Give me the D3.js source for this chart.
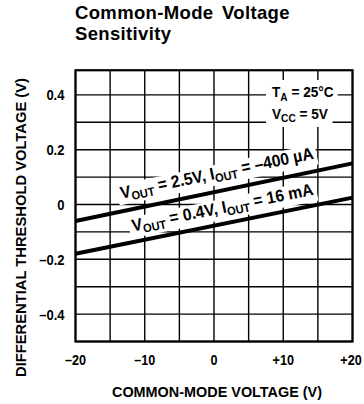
<!DOCTYPE html>
<html><head><meta charset="utf-8">
<script src="https://cdn.jsdelivr.net/npm/d3@7"></script>
<style>
body{margin:0;background:#fff;}
svg{display:block;}
text{fill:#000;}
</style></head>
<body><svg id="c" width="364" height="404"></svg>
<script>
// ---- data ----
const commonModeV = [-20, 20];
const vout25 = [-0.06, 0.15];   // VOUT = 2.5V, IOUT = -400 uA
const vout04 = [-0.18, 0.025];  // VOUT = 0.4V, IOUT = 16 mA
const xTicks = [-20, -10, 0, 10, 20];
const xTickLabels = ["\u201320", "\u201310", "0", "+10", "+20"];
const yTicks = [0.4, 0.2, 0, -0.2, -0.4];
const yTickLabels = ["0.4", "0.2", "0", "\u20130.2", "\u20130.4"];
const titleLines = ["Common-Mode Voltage", "Sensitivity"];
const xTitle = "COMMON-MODE VOLTAGE (V)";
const yTitle = "DIFFERENTIAL THRESHOLD VOLTAGE (V)";

const svg = d3.select("#c");
const x = d3.scaleLinear().domain([-20, 20]).range([75.5, 352.5]);
const y = d3.scaleLinear().domain([-0.5, 0.5]).range([341.5, 67.5]);
const yTop = 0.49;
const font = "'Liberation Sans',Arial,Helvetica,sans-serif";

function condense(sel, k) {
  sel.each(function() {
    const L = this.getComputedTextLength();
    d3.select(this).attr("textLength", L * k).attr("lengthAdjust", "spacingAndGlyphs");
  });
}

// title
svg.append("g").selectAll("text").data(titleLines).join("text")
  .attr("x", 75).attr("y", (d, i) => 18.5 + i * 21.5)
  .attr("font-family", font).attr("font-weight", "bold").attr("font-size", 18.5)
  .attr("word-spacing", 3).attr("letter-spacing", 0.35)
  .text(d => d);

// grid
const g = svg.append("g");
g.selectAll("line.vx").data(x.ticks(8)).join("line")
  .attr("x1", d => x(d)).attr("x2", d => x(d))
  .attr("y1", y(-0.5)).attr("y2", y(yTop))
  .attr("stroke", "#000").attr("stroke-width", 1.4);
g.selectAll("line.hy").data(y.ticks(10).filter(v => v < yTop)).join("line")
  .attr("x1", x(-20)).attr("x2", x(20))
  .attr("y1", d => y(d)).attr("y2", d => y(d))
  .attr("stroke", "#000").attr("stroke-width", 1.4);

// condition box (white background over grid)
const cond_g = svg.append("g");
const condLines = [["T", "A", " = 25\u00b0C"], ["V", "CC", " = 5V"]];
const condTexts = cond_g.selectAll("text").data(condLines).join("text")
  .attr("x", 272).attr("y", (d, i) => 97 + i * 21.5)
  .attr("font-family", font).attr("font-weight", "bold").attr("font-size", 15.5);
condTexts.each(function(d) {
  const t = d3.select(this);
  t.append("tspan").text(d[0]);
  t.append("tspan").attr("dy", 3.5).attr("font-size", 11.5).text(d[1]);
  t.append("tspan").attr("dy", -3.5).text(d[2]);
});
condense(condTexts, 0.88);
condTexts.each(function() {
  const b = this.getBBox();
  cond_g.insert("rect", "text").attr("x", b.x - 6).attr("y", b.y - 3)
    .attr("width", b.width + 10).attr("height", b.height + 6).attr("fill", "#fff");
});

// frame
svg.append("rect").attr("x", x(-20)).attr("y", y(yTop))
  .attr("width", x(20) - x(-20)).attr("height", y(-0.5) - y(yTop))
  .attr("fill", "none").attr("stroke", "#000").attr("stroke-width", 2.2);

// data lines
const series = [vout25, vout04];
const line = d3.line().x(d => x(d[0])).y(d => y(d[1]));
svg.append("g").selectAll("path").data(series).join("path")
  .attr("d", s => line(commonModeV.map((v, i) => [v, s[i]])))
  .attr("fill", "none").attr("stroke", "#000").attr("stroke-width", 4);

// curve labels
const labels = [
  {s: vout25, x0: -13.0, off: -12.5, len: 197, parts: ["V", "OUT", " = 2.5V, I", "OUT", " = \u2013400 \u00b5A"]},
  {s: vout04, x0: -11.4, off: -10.5, len: 185, parts: ["V", "OUT", " = 0.4V, I", "OUT", " = 16 mA"]}
];
labels.forEach(L => {
  const ang = Math.atan2(y(L.s[1]) - y(L.s[0]), x(20) - x(-20)) * 180 / Math.PI;
  const yy = y(L.s[0] + (L.s[1] - L.s[0]) * (L.x0 + 20) / 40);
  const lg = svg.append("g").attr("transform", `translate(${x(L.x0)},${yy}) rotate(${ang})`);
  const t = lg.append("text").attr("x", 0).attr("y", L.off)
    .attr("font-family", font).attr("font-weight", "bold").attr("font-size", 17);
  L.parts.forEach((p, i) => {
    const sub = i % 2 === 1;
    t.append("tspan").attr("dy", i === 0 ? 0 : (sub ? 3.5 : -3.5))
      .attr("font-size", sub ? 12 : 17).text(p);
  });
  t.attr("textLength", L.len).attr("lengthAdjust", "spacingAndGlyphs");
  const b = t.node().getBBox();
  lg.insert("rect", "text").attr("x", b.x - 3).attr("y", b.y + 1)
    .attr("width", b.width + 6).attr("height", b.height - 1).attr("fill", "#fff");
});

// tick labels
const xt = svg.append("g").selectAll("text").data(xTicks).join("text")
  .attr("x", d => Math.min(x(d), 351)).attr("y", 365).attr("text-anchor", "middle")
  .attr("font-family", font).attr("font-weight", "bold").attr("font-size", 14)
  .text((d, i) => xTickLabels[i]);
condense(xt, 0.9);
const yt = svg.append("g").selectAll("text").data(yTicks).join("text")
  .attr("x", 64.5).attr("y", d => y(d) + 5.5).attr("text-anchor", "end")
  .attr("font-family", font).attr("font-weight", "bold").attr("font-size", 15.5)
  .text((d, i) => yTickLabels[i]);
condense(yt, 0.84);

// axis titles
svg.append("text").attr("x", 217).attr("y", 396.5).attr("text-anchor", "middle")
  .attr("font-family", font).attr("font-weight", "bold").attr("font-size", 14.5)
  .attr("textLength", 210).attr("lengthAdjust", "spacingAndGlyphs").text(xTitle);
svg.append("text").attr("transform", "translate(25.5,227.5) rotate(-90)")
  .attr("text-anchor", "middle")
  .attr("font-family", font).attr("font-weight", "bold").attr("font-size", 14)
  .attr("textLength", 299).attr("lengthAdjust", "spacingAndGlyphs").text(yTitle);
</script></body></html>
